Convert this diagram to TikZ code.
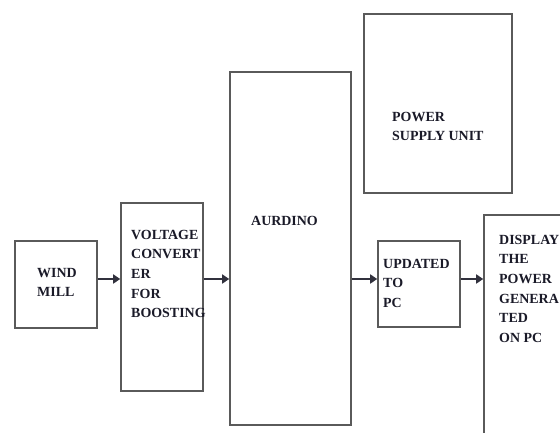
\documentclass[tikz,border=0pt]{standalone}
\usepackage{fontspec}
\setmainfont{Liberation Serif}
\usetikzlibrary{arrows.meta,positioning}
\definecolor{ink}{HTML}{1A1A28}
\definecolor{edge}{HTML}{5A5A5A}
\tikzset{
  block/.style={draw=edge,line width=1.6pt,fill=white,inner sep=0pt},
  flow/.style={-{Triangle[length=7pt,width=9pt]},draw=ink!90,line width=2.2pt},
  tag/.style={anchor=north west,inner sep=0pt,align=left,text=ink,
    font=\fontsize{14}{19.6}\selectfont\bfseries}
}

\begin{document}
\begin{tikzpicture}[x=1bp,y=-1bp]
  \useasboundingbox (0,0) rectangle (560,432);

  \node[block,minimum width=82bp,minimum height=87bp] (mill) at (56,284.5) {};
  \node[block,minimum width=82bp,minimum height=188bp] (conv) at (162,297) {};
  \node[block,minimum width=121bp,minimum height=353bp] (ard) at (290.5,248.5) {};
  \node[block,minimum width=148bp,minimum height=179bp] (psu) at (438,103.5) {};
  \node[block,minimum width=82bp,minimum height=86bp] (upd) at (419,284) {};
  \node[block,minimum width=116bp,minimum height=255bp] (disp) at (542,342.5) {};

  \node[tag] (milltext) at (37,268) {WIND\\MILL};
  \node[tag] (convtext) at (131,230) {VOLTAGE\\CONVERT\\ER\\FOR\\BOOSTING};
  \node[tag] (ardtext) at (251,216) {AURDINO};
  \node[tag] (psutext) at (392,112) {POWER\\SUPPLY UNIT};
  \node[tag] (updtext) at (383,259) {UPDATED\\TO\\PC};
  \node[tag] (disptext) at (499,235) {DISPLAY\\THE\\POWER\\GENERA\\TED\\ON PC};

  % arrows all run along one row
  \coordinate (row) at (0,279);
  \draw[flow] (mill.east |- row) -- (conv.west |- row);
  \draw[flow] (conv.east |- row) -- (ard.west |- row);
  \draw[flow] (ard.east |- row) -- (upd.west |- row);
  \draw[flow] (upd.east |- row) -- (disp.west |- row);
\end{tikzpicture}
\end{document}
